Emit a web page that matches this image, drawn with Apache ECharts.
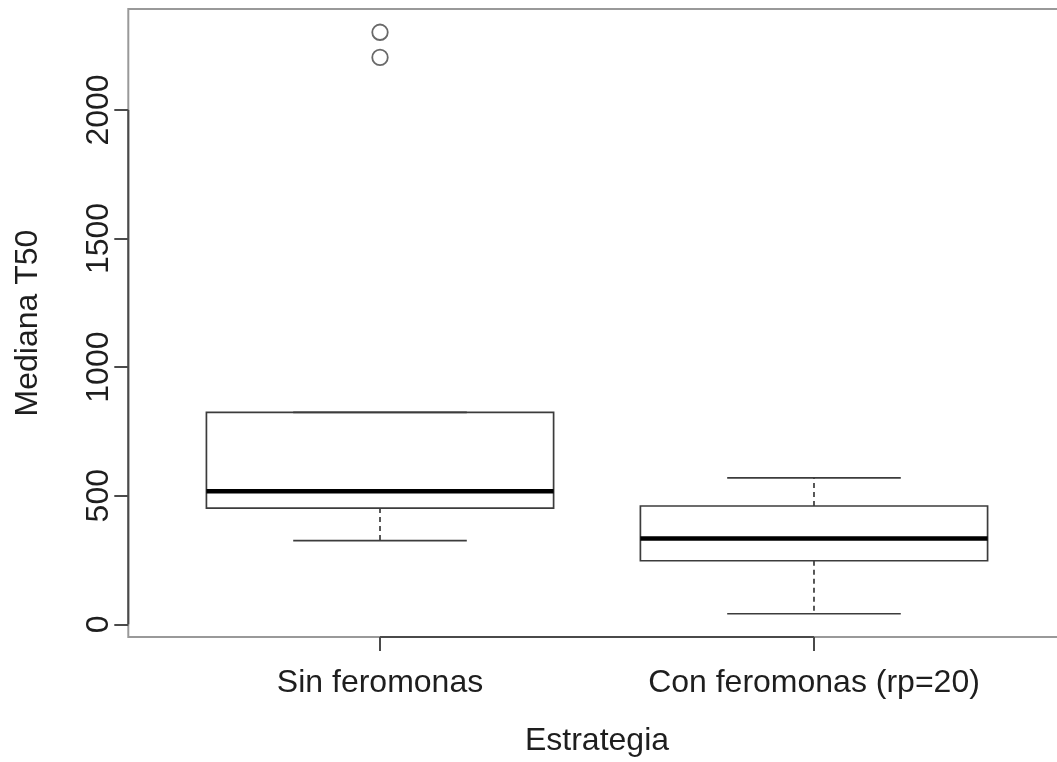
<!DOCTYPE html>
<html>
<head>
<meta charset="utf-8">
<script src="https://cdn.jsdelivr.net/npm/echarts@6/dist/echarts.min.js"></script>
<style>
html, body { margin: 0; padding: 0; background: #ffffff; }
#chart { width: 1057px; height: 762px; }
</style>
</head>
<body>
<div id="chart"></div>
<script>
// Five-number summaries per strategy
const categories = ['Sin feromonas', 'Con feromonas (rp=20)'];
const lowerWhisker = [325, 41];
const q1 = [452, 247];
const median = [517, 334];
const q3 = [824, 460];
const upperWhisker = [824, 569];
const outliers = [[2302, 2204], []];
const yTicks = [0, 500, 1000, 1500, 2000];

// Axis limits in the R style: data range padded by 4% on each side
const allValues = lowerWhisker.concat(upperWhisker, ...outliers);
const dMin = Math.min(...allValues);
const dMax = Math.max(...allValues);
const yPad = (dMax - dMin) * 0.04;
const yMin = dMin - yPad;
const yMax = dMax + yPad;
const xPad = categories.length * 0.04;
const xMin = 0.5 - xPad;
const xMax = categories.length + 0.5 + xPad;

const FONT = 'Liberation Sans, Arial, Helvetica, sans-serif';
const FS = 32;
const TEXT = '#1e1e1e';
const STROKE = '#3c3c3c';

const boxData = categories.map((c, k) => [k + 1, lowerWhisker[k], q1[k], median[k], q3[k], upperWhisker[k]]);
const outlierData = [];
outliers.forEach((vals, k) => vals.forEach(v => outlierData.push([k + 1, v])));

function seg(a, b, style) {
  return { type: 'line', shape: { x1: a[0], y1: a[1], x2: b[0], y2: b[1] }, style: style };
}

function renderBox(params, api) {
  const i = api.value(0);
  const lw = api.value(1), lo = api.value(2), md = api.value(3), hi = api.value(4), uw = api.value(5);
  const half = 0.4, cap = 0.2;
  const p = (x, y) => api.coord([x, y]);
  const tl = p(i - half, hi);
  const br = p(i + half, lo);
  const thin = { stroke: STROKE, lineWidth: 1.7, fill: null };
  const dashed = { stroke: STROKE, lineWidth: 1.7, lineDash: [5, 4], fill: null };
  return {
    type: 'group',
    children: [
      { type: 'rect', shape: { x: tl[0], y: tl[1], width: br[0] - tl[0], height: br[1] - tl[1] }, style: thin },
      seg(p(i, lo), p(i, lw), dashed),
      seg(p(i, hi), p(i, uw), dashed),
      seg(p(i - cap, lw), p(i + cap, lw), thin),
      seg(p(i - cap, uw), p(i + cap, uw), thin),
      seg(p(i - half, md), p(i + half, md), { stroke: '#000', lineWidth: 4.5 })
    ]
  };
}

// Axis lines span only the tick range, as in base R graphics
function renderAxes(params, api) {
  const p = (x, y) => api.coord([x, y]);
  const style = { stroke: '#4a4a4a', lineWidth: 2 };
  return {
    type: 'group',
    children: [
      seg(p(xMin, yTicks[0]), p(xMin, yTicks[yTicks.length - 1]), style),
      seg(p(1, yMin), p(categories.length, yMin), style)
    ]
  };
}

const chart = echarts.init(document.getElementById('chart'));
chart.setOption({
  animation: false,
  backgroundColor: '#ffffff',
  grid: {
    left: 128.3, top: 9, width: 937.4, height: 628,
    outerBoundsMode: 'none', containLabel: false,
    show: true, borderColor: '#999999', borderWidth: 2, backgroundColor: 'transparent'
  },
  xAxis: {
    type: 'value', min: xMin, max: xMax,
    name: 'Estrategia', nameLocation: 'middle', nameGap: 88,
    nameTextStyle: { fontSize: FS, fontFamily: FONT, color: TEXT, lineHeight: FS },
    axisLine: { show: false, onZero: false },
    splitLine: { show: false },
    axisTick: { show: true, inside: false, customValues: [1, 2], length: 14, lineStyle: { color: '#4a4a4a', width: 2 } },
    axisLabel: {
      customValues: [1, 2], margin: 30, fontSize: FS, lineHeight: FS, fontFamily: FONT, color: TEXT,
      formatter: v => categories[Math.round(v) - 1]
    }
  },
  yAxis: {
    type: 'value', min: yMin, max: yMax,
    name: 'Mediana T50', nameLocation: 'middle', nameGap: 84,
    nameTextStyle: { fontSize: FS, fontFamily: FONT, color: TEXT, lineHeight: FS },
    axisLine: { show: false, onZero: false },
    splitLine: { show: false },
    axisTick: { show: true, customValues: yTicks, length: 14, lineStyle: { color: '#4a4a4a', width: 2 } },
    axisLabel: {
      customValues: yTicks, rotate: 90, margin: 13, fontSize: FS, lineHeight: FS, fontFamily: FONT, color: TEXT,
      formatter: v => String(v)
    }
  },
  series: [
    {
      type: 'custom', name: 'axes', clip: false, silent: true,
      data: [[xMin, yMin]], encode: { x: 0, y: 1 },
      renderItem: renderAxes
    },
    {
      type: 'custom', name: 'T50', clip: false,
      data: boxData, encode: { x: 0, y: [1, 2, 3, 4, 5] },
      renderItem: renderBox
    },
    {
      type: 'scatter', name: 'atípicos',
      data: outlierData, symbol: 'circle', symbolSize: 15.5,
      itemStyle: { color: 'rgba(0,0,0,0)', borderColor: '#444444', borderWidth: 1.8 }
    }
  ]
});
</script>
</body>
</html>
